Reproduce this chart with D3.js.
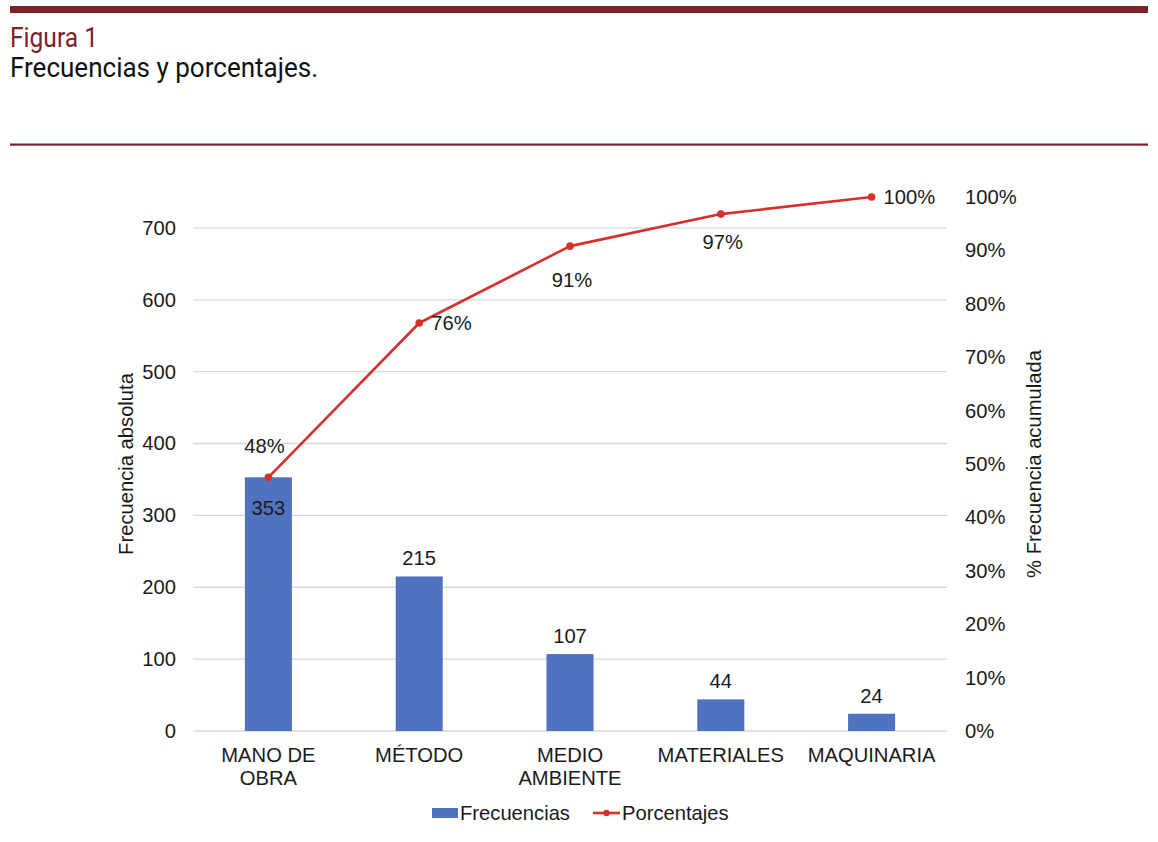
<!DOCTYPE html>
<html>
<head>
<meta charset="utf-8">
<script src="https://cdn.jsdelivr.net/npm/d3@7"></script>
<style>
  html, body { margin: 0; padding: 0; background: #fff; }
  svg { display: block; }
</style>
</head>
<body>
<svg id="chart" width="1158" height="842"></svg>
<script>
// ---- data ----
const categories = ["MANO DE\nOBRA", "MÉTODO", "MEDIO\nAMBIENTE", "MATERIALES", "MAQUINARIA"];
const frecuencias = [353, 215, 107, 44, 24];
const porcentajes = [0.475, 0.764, 0.908, 0.968, 1.0];
const porcentajeLabels = ["48%", "76%", "91%", "97%", "100%"];
const leftTicks = [0, 100, 200, 300, 400, 500, 600, 700];
const rightTicks = [0, 0.1, 0.2, 0.3, 0.4, 0.5, 0.6, 0.7, 0.8, 0.9, 1.0];
const leftMax = 743;
const barLabelPlacement = ["inside", "above", "above", "above", "above"];
const pctLabelPlacement = ["above", "right", "below", "below", "right"];

// ---- style ----
const maroon = "#7B2226";
const barColor = "#5172BE";
const lineColor = "#D6302A";
const gridColor = "#D9D9D9";
const textColor = "#1a1a1a";
const font = "'Liberation Sans', Arial, sans-serif";
const fs = 20.2;

const svg = d3.select("#chart");

// header
svg.append("rect").attr("x", 10).attr("y", 6).attr("width", 1138).attr("height", 7).attr("fill", maroon);
svg.append("rect").attr("x", 10).attr("y", 143.5).attr("width", 1138).attr("height", 2.2).attr("fill", maroon);
svg.append("text").attr("x", 10).attr("y", 47)
  .attr("font-family", "Roboto, 'Open Sans', sans-serif").attr("font-weight", 400)
  .attr("font-size", 27).attr("fill", maroon)
  .attr("textLength", 88).attr("lengthAdjust", "spacingAndGlyphs")
  .text("Figura 1");
svg.append("text").attr("x", 10).attr("y", 77)
  .attr("font-family", "Roboto, 'Open Sans', sans-serif").attr("font-weight", 400)
  .attr("font-size", 27).attr("fill", "#111")
  .attr("textLength", 308).attr("lengthAdjust", "spacingAndGlyphs")
  .text("Frecuencias y porcentajes.");

// scales
const plot = { left: 193, right: 947, top: 197, bottom: 731 };
const x = d3.scaleBand().domain(categories).range([plot.left, plot.right])
  .paddingInner(0.688).paddingOuter(0.344);
const yL = d3.scaleLinear().domain([0, leftMax]).range([plot.bottom, plot.top]);
const yR = d3.scaleLinear().domain([0, 1]).range([plot.bottom, plot.top]);
const cx = d => x(d) + x.bandwidth() / 2;

// gridlines
svg.append("g").selectAll("line").data(leftTicks).join("line")
  .attr("x1", plot.left).attr("x2", plot.right)
  .attr("y1", d => yL(d)).attr("y2", d => yL(d))
  .attr("stroke", gridColor).attr("stroke-width", 1.3);

// left axis
const gL = svg.append("g").attr("transform", `translate(${plot.left - 17},0)`)
  .call(d3.axisLeft(yL).tickValues(leftTicks).tickSize(0).tickPadding(0));
gL.select(".domain").remove();
gL.selectAll("text").attr("font-family", font).attr("font-size", fs).attr("fill", textColor);

// right axis
const gR = svg.append("g").attr("transform", `translate(${plot.right + 18},0)`)
  .call(d3.axisRight(yR).tickValues(rightTicks).tickSize(0).tickPadding(0).tickFormat(d3.format(".0%")));
gR.select(".domain").remove();
gR.selectAll("text").attr("font-family", font).attr("font-size", fs).attr("fill", textColor);

// bars
svg.append("g").selectAll("rect").data(categories).join("rect")
  .attr("x", d => x(d)).attr("width", x.bandwidth())
  .attr("y", (d, i) => yL(frecuencias[i]))
  .attr("height", (d, i) => yL(0) - yL(frecuencias[i]))
  .attr("fill", barColor);

// category labels
const cat = svg.append("g").selectAll("text").data(categories).join("text")
  .attr("font-family", font).attr("font-size", fs).attr("fill", textColor)
  .attr("text-anchor", "middle");
cat.each(function (d) {
  const t = d3.select(this);
  d.split("\n").forEach((ln, k) => {
    t.append("tspan").attr("x", cx(d)).attr("y", plot.bottom + 31 + k * 23).text(ln);
  });
});

// bar labels
svg.append("g").selectAll("text").data(categories).join("text")
  .attr("font-family", font).attr("font-size", fs).attr("fill", textColor)
  .attr("text-anchor", "middle")
  .attr("x", d => cx(d))
  .attr("y", (d, i) => barLabelPlacement[i] === "inside" ? yL(frecuencias[i]) + 38 : yL(frecuencias[i]) - 11)
  .text((d, i) => frecuencias[i]);

// line
const line = d3.line().x(d => cx(d.c)).y(d => yR(d.v));
const pts = categories.map((c, i) => ({ c, v: porcentajes[i] }));
svg.append("path").datum(pts).attr("d", line)
  .attr("fill", "none").attr("stroke", lineColor).attr("stroke-width", 2.6)
  .attr("stroke-linejoin", "round");
svg.append("g").selectAll("circle").data(pts).join("circle")
  .attr("cx", d => cx(d.c)).attr("cy", d => yR(d.v)).attr("r", 3.8)
  .attr("fill", lineColor);

// percentage labels
svg.append("g").selectAll("text").data(pts).join("text")
  .attr("font-family", font).attr("font-size", fs).attr("fill", textColor)
  .attr("text-anchor", (d, i) => pctLabelPlacement[i] === "right" ? "start" : "middle")
  .attr("x", (d, i) => {
    const p = pctLabelPlacement[i];
    if (p === "right") return cx(d.c) + 12;
    if (p === "above") return cx(d.c) - 4;
    return cx(d.c) + 2;
  })
  .attr("y", (d, i) => {
    const p = pctLabelPlacement[i];
    if (p === "right") return yR(d.v) + 7;
    if (p === "above") return yR(d.v) - 24;
    return yR(d.v) + (i === 2 ? 41 : 35);
  })
  .text((d, i) => porcentajeLabels[i]);

// axis titles
svg.append("text").attr("transform", `translate(133,464) rotate(-90)`)
  .attr("text-anchor", "middle").attr("font-family", font).attr("font-size", fs).attr("fill", textColor)
  .text("Frecuencia absoluta");
svg.append("text").attr("transform", `translate(1041,464) rotate(-90)`)
  .attr("text-anchor", "middle").attr("font-family", font).attr("font-size", fs).attr("fill", textColor)
  .text("% Frecuencia acumulada");

// legend
const lg = svg.append("g");
lg.append("rect").attr("x", 432).attr("y", 808).attr("width", 26).attr("height", 10).attr("fill", barColor);
lg.append("text").attr("x", 460).attr("y", 820).attr("font-family", font).attr("font-size", fs).attr("fill", textColor).text("Frecuencias");
lg.append("line").attr("x1", 593).attr("x2", 620).attr("y1", 813).attr("y2", 813).attr("stroke", lineColor).attr("stroke-width", 2.6);
lg.append("circle").attr("cx", 606.5).attr("cy", 813).attr("r", 3.2).attr("fill", lineColor);
lg.append("text").attr("x", 622).attr("y", 820).attr("font-family", font).attr("font-size", fs).attr("fill", textColor).text("Porcentajes");
</script>
</body>
</html>
